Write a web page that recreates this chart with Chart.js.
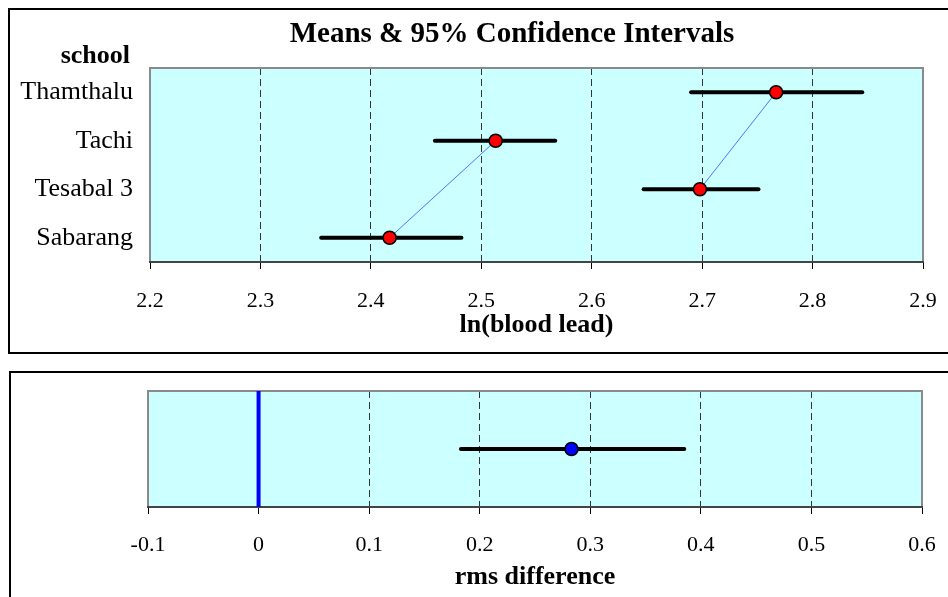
<!DOCTYPE html>
<html>
<head>
<meta charset="utf-8">
<script src="https://cdn.jsdelivr.net/npm/chart.js@4"></script>
<style>
  html, body { margin: 0; padding: 0; background: #fff; overflow: hidden; }
  body { width: 948px; height: 597px; position: relative; }
  .panel { position: absolute; box-sizing: border-box; border: 2px solid #000; }
  canvas { position: absolute; left: 0; }
</style>
</head>
<body>
<div class="panel" style="left:8px; top:8px; width:946px; height:346px;"></div>
<div class="panel" style="left:9px; top:371px; width:946px; height:240px;"></div>
<canvas id="means-chart" width="948" height="360" style="top:0;"></canvas>
<canvas id="rms-chart" width="948" height="237" style="top:360px;"></canvas>
<script>
// values
const schools = ['Thamthalu', 'Tachi', 'Tesabal 3', 'Sabarang'];
const means = [2.767, 2.513, 2.698, 2.417];
const lower = [2.690, 2.458, 2.647, 2.355];
const upper = [2.845, 2.567, 2.751, 2.482];
// the thin blue lines join these schools
const linkedPairs = [[0, 2], [1, 3]];
const topTicks = [2.2, 2.3, 2.4, 2.5, 2.6, 2.7, 2.8, 2.9];

const rmsMean = [0.283];
const rmsLower = [0.183];
const rmsUpper = [0.385];
const rmsZero = [0];
const bottomTicks = [-0.1, 0, 0.1, 0.2, 0.3, 0.4, 0.5, 0.6];

Chart.defaults.font.family = "'Liberation Serif', 'Times New Roman', serif";
Chart.defaults.color = '#000';

const serif = "'Liberation Serif', 'Times New Roman', serif";

// cyan plot background + grey frame
const plotFrame = {
    id: 'plotFrame',
    beforeDraw(chart) {
        const a = chart.chartArea;
        const ctx = chart.ctx;
        ctx.save();
        ctx.fillStyle = '#ccffff';
        ctx.fillRect(a.left, a.top, a.right - a.left, a.bottom - a.top);
        ctx.restore();
    },
    beforeDatasetsDraw(chart) {
        const a = chart.chartArea;
        const ctx = chart.ctx;
        ctx.save();
        ctx.strokeStyle = '#8a8a8a';
        ctx.lineWidth = 2;
        ctx.strokeRect(a.left, a.top, a.right - a.left, a.bottom - a.top);
        ctx.strokeStyle = '#444';
        ctx.beginPath();
        ctx.moveTo(a.left - 1, a.bottom);
        ctx.lineTo(a.right + 1, a.bottom);
        ctx.stroke();
        ctx.restore();
    }
};

// chart heading and the "school" label above the category axis
const headings = {
    id: 'headings',
    afterDraw(chart, args, opts) {
        const ctx = chart.ctx;
        ctx.save();
        ctx.fillStyle = '#000';
        ctx.font = 'bold 29px ' + serif;
        ctx.textAlign = 'center';
        ctx.textBaseline = 'middle';
        ctx.fillText(opts.title, opts.titleX, opts.titleY);
        ctx.font = 'bold 26px ' + serif;
        ctx.textAlign = 'right';
        ctx.textBaseline = 'alphabetic';
        ctx.fillText(opts.axisLabel, opts.axisX, opts.axisY);
        ctx.restore();
    }
};

function xAxis(ticks, title, labelPad, height) {
    const last = ticks.length - 1;
    return {
        type: 'linear',
        position: 'bottom',
        min: ticks[0],
        max: ticks[last],
        afterBuildTicks: s => { s.ticks = ticks.map(v => ({ value: v })); },
        afterFit: s => {
            s.height = height;
            // let the layout padding alone decide the plot's width
            s.paddingLeft = 0;
            s.paddingRight = 0;
        },
        ticks: {
            padding: labelPad,
            font: { size: 22 },
            color: '#000',
            callback: v => Math.abs(v) < 1e-9 ? '0' : v.toFixed(1)
        },
        grid: {
            color: c => (c.index === 0 || c.index === last) ? 'rgba(0,0,0,0)' : '#333',
            lineWidth: 1,
            tickLength: 7,
            tickColor: '#000',
            tickWidth: 1
        },
        border: { display: false, dash: [7, 4] },
        title: {
            display: true,
            text: title,
            font: { size: 26, weight: 'bold' },
            color: '#000',
            padding: 0
        }
    };
}

function errorBar(lo, hi, y) {
    return {
        data: [{ x: lo, y: y }, { x: hi, y: y }],
        borderColor: '#000',
        borderWidth: 4,
        borderCapStyle: 'round',
        pointRadius: 0,
        order: 2
    };
}

function run() {
    const meanSets = linkedPairs.map(pair => ({
        data: pair.map(i => ({ x: means[i], y: schools[i] })),
        borderColor: '#4a78ff',
        borderWidth: 1,
        pointRadius: 6.5,
        pointBackgroundColor: '#ff0000',
        pointBorderColor: '#000',
        pointBorderWidth: 1.5,
        order: 0
    }));
    const barSets = schools.map((s, i) => errorBar(lower[i], upper[i], s));

    new Chart(document.getElementById('means-chart'), {
        type: 'line',
        data: { datasets: meanSets.concat(barSets) },
        options: {
            responsive: false,
            animation: false,
            events: [],
            layout: { padding: { left: 0, right: 25, top: 68, bottom: 19 } },
            plugins: {
                legend: { display: false },
                tooltip: { enabled: false },
                headings: {
                    title: 'Means & 95% Confidence Intervals',
                    titleX: 512, titleY: 35,
                    axisLabel: 'school', axisX: 130, axisY: 63
                }
            },
            scales: {
                x: xAxis(topTicks, 'ln(blood lead)', 19, 79),
                y: {
                    type: 'category',
                    labels: schools,
                    offset: true,
                    afterFit: s => { s.width = 150; },
                    ticks: { padding: 17, font: { size: 26 }, color: '#000' },
                    grid: { display: false, drawTicks: false },
                    border: { display: false }
                }
            }
        },
        plugins: [plotFrame, headings]
    });

    new Chart(document.getElementById('rms-chart'), {
        type: 'line',
        data: {
            datasets: [
                {
                    data: rmsMean.map(v => ({ x: v, y: 0 })),
                    showLine: false,
                    pointRadius: 6.5,
                    pointBackgroundColor: '#0000ff',
                    pointBorderColor: '#000',
                    pointBorderWidth: 1.5,
                    order: 0
                },
                errorBar(rmsLower[0], rmsUpper[0], 0),
                {
                    data: [{ x: rmsZero[0], y: -1 }, { x: rmsZero[0], y: 1 }],
                    borderColor: '#0000ff',
                    borderWidth: 4,
                    pointRadius: 0,
                    order: 3
                }
            ]
        },
        options: {
            responsive: false,
            animation: false,
            events: [],
            layout: { padding: { left: 148, right: 26, top: 31, bottom: 4 } },
            plugins: {
                legend: { display: false },
                tooltip: { enabled: false }
            },
            scales: {
                x: xAxis(bottomTicks, 'rms difference', 18, 86),
                y: { type: 'linear', min: -1, max: 1, display: false }
            }
        },
        plugins: [plotFrame]
    });
}

document.addEventListener('DOMContentLoaded', run);
</script>
</body>
</html>
